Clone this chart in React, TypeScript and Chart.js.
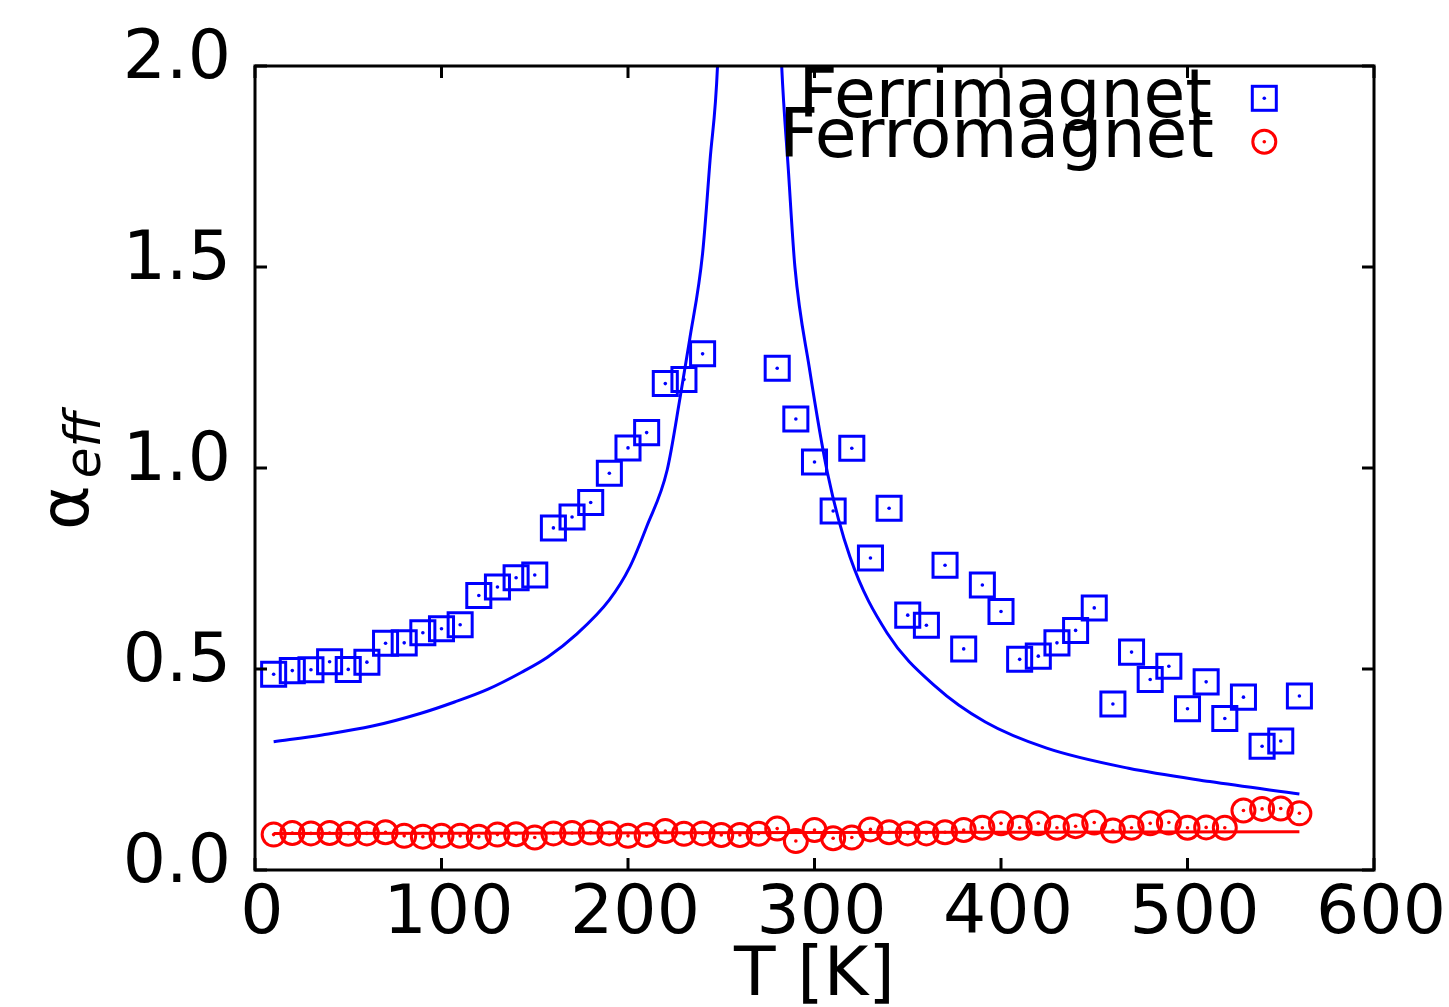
import React, { useEffect, useRef } from 'react';
import { Chart, registerables } from 'chart.js';

Chart.register(...registerables);

// ---- data ----
const ferriT = [10, 20, 30, 40, 50, 60, 70, 80, 90, 100, 110, 120, 130, 140, 150, 160, 170, 180, 190, 200, 210, 220, 230, 240,
  280, 290, 300, 310, 320, 330, 340, 350, 360, 370, 380, 390, 400, 410, 420, 430, 440, 450, 460, 470, 480, 490, 500, 510, 520, 530, 540, 550, 560];
const ferriAlpha = [0.487, 0.496, 0.498, 0.518, 0.499, 0.517, 0.564, 0.565, 0.590, 0.600, 0.610, 0.683, 0.704, 0.727, 0.734, 0.851, 0.878, 0.914, 0.987, 1.050, 1.088, 1.210, 1.220, 1.284,
  1.248, 1.122, 1.015, 0.893, 1.049, 0.776, 0.900, 0.634, 0.609, 0.758, 0.550, 0.709, 0.643, 0.524, 0.532, 0.565, 0.596, 0.652, 0.413, 0.542, 0.474, 0.507, 0.401, 0.468, 0.377, 0.430, 0.308, 0.321, 0.433];

const ferroT = [10, 20, 30, 40, 50, 60, 70, 80, 90, 100, 110, 120, 130, 140, 150, 160, 170, 180, 190, 200, 210, 220, 230, 240, 250, 260, 270, 280,
  290, 300, 310, 320, 330, 340, 350, 360, 370, 380, 390, 400, 410, 420, 430, 440, 450, 460, 470, 480, 490, 500, 510, 520, 530, 540, 550, 560];
const ferroAlpha = [0.088, 0.092, 0.091, 0.092, 0.090, 0.091, 0.094, 0.085, 0.083, 0.085, 0.085, 0.083, 0.088, 0.089, 0.081, 0.091, 0.092, 0.093, 0.091, 0.085, 0.087, 0.097, 0.090, 0.091, 0.087, 0.087, 0.090, 0.103,
  0.072, 0.0995, 0.079, 0.081, 0.101, 0.094, 0.091, 0.091, 0.094, 0.0995, 0.105, 0.116, 0.105, 0.116, 0.105, 0.109, 0.118, 0.098, 0.105, 0.116, 0.118, 0.105, 0.106, 0.105, 0.148, 0.152, 0.153, 0.141];

// ferrimagnet model curve (below and above the compensation point)
const fitLowT = [10, 36, 63, 89, 107, 125, 143, 157, 172, 190, 201, 210, 221, 228, 233, 240, 244, 248, 250];
const fitLowAlpha = [0.319, 0.336, 0.358, 0.390, 0.418, 0.450, 0.492, 0.530, 0.585, 0.672, 0.754, 0.854, 0.995, 1.177, 1.318, 1.534, 1.766, 2.0, 2.3];
const fitHighT = [280, 282.4, 286, 289.5, 297.2, 307, 319, 339, 365, 391.6, 424.5, 468.4, 512, 560];
const fitHighAlpha = [2.3, 2.0, 1.74, 1.5, 1.25, 0.987, 0.779, 0.589, 0.456, 0.368, 0.303, 0.253, 0.220, 0.189];

// ferromagnet model curve
const ferroFitT = [10, 300, 560];
const ferroFitAlpha = [0.091, 0.093, 0.095];

const xTicks = [0, 100, 200, 300, 400, 500, 600];
const yTicks = [0, 0.5, 1.0, 1.5, 2.0];
const legendLabels = ['Ferrimagnet', 'Ferromagnet'];
const xTitle = 'T [K]';
const yTitleMain = 'α';
const yTitleSub = 'eff';

const BLUE = '#0000ff';
const RED = '#ff0000';
const FONT = "'DejaVu Sans', sans-serif";

const pts = (xs: number[], ys: number[]) => xs.map((x, i) => ({ x, y: ys[i] }));

const decorPlugin = {
  id: 'decor',
  afterDatasetsDraw(chart: any) {
    const { ctx, chartArea: a, scales } = chart;
    ctx.save();
    ctx.strokeStyle = '#000';
    ctx.lineWidth = 3;
    ctx.strokeRect(a.left, a.top, a.right - a.left, a.bottom - a.top);
    const L = 12;
    ctx.beginPath();
    xTicks.forEach((v) => {
      const x = scales.x.getPixelForValue(v);
      ctx.moveTo(x, a.bottom); ctx.lineTo(x, a.bottom - L);
      ctx.moveTo(x, a.top); ctx.lineTo(x, a.top + L);
    });
    yTicks.forEach((v) => {
      const y = scales.y.getPixelForValue(v);
      ctx.moveTo(a.left, y); ctx.lineTo(a.left + L, y);
      ctx.moveTo(a.right, y); ctx.lineTo(a.right - L, y);
    });
    ctx.stroke();

    // legend
    ctx.fillStyle = '#000';
    ctx.font = `68px ${FONT}`;
    ctx.textAlign = 'right';
    ctx.textBaseline = 'alphabetic';
    ctx.fillText(legendLabels[0], 1212, 116.5);
    ctx.fillText(legendLabels[1], 1214, 157);
    ctx.lineWidth = 3;
    ctx.strokeStyle = BLUE;
    ctx.strokeRect(1264.3 - 12, 98.3 - 12, 24, 24);
    ctx.fillStyle = BLUE;
    ctx.beginPath(); ctx.arc(1264.3, 98.3, 1.8, 0, Math.PI * 2); ctx.fill();
    ctx.strokeStyle = RED;
    ctx.beginPath(); ctx.arc(1264.3, 141.7, 11.5, 0, Math.PI * 2); ctx.stroke();
    ctx.fillStyle = RED;
    ctx.beginPath(); ctx.arc(1264.3, 141.7, 1.8, 0, Math.PI * 2); ctx.fill();

    // axis titles
    ctx.fillStyle = '#000';
    ctx.textAlign = 'center';
    ctx.font = `68px ${FONT}`;
    ctx.fillText(xTitle, (a.left + a.right) / 2, 995);

    ctx.save();
    ctx.translate(88, 530);
    ctx.rotate(-Math.PI / 2);
    ctx.textAlign = 'left';
    ctx.font = `68px ${FONT}`;
    ctx.fillText(yTitleMain, 0, 0);
    const w = ctx.measureText(yTitleMain).width;
    ctx.font = `italic 50px ${FONT}`;
    ctx.fillText(yTitleSub, w + 7, 12);
    ctx.restore();

    ctx.restore();
  },
};

export default function App() {
  const ref = useRef<HTMLCanvasElement>(null);
  useEffect(() => {
    if (!ref.current) return;
    const lineDs = (data: any[], color: string) => ({
      data, showLine: true, borderColor: color, borderWidth: 3, pointRadius: 0,
      cubicInterpolationMode: 'monotone', fill: false,
    });
    const chart = new Chart(ref.current, {
      type: 'scatter',
      data: {
        datasets: [
          lineDs(pts(fitLowT, fitLowAlpha), BLUE),
          lineDs(pts(fitHighT, fitHighAlpha), BLUE),
          lineDs(pts(ferroFitT, ferroFitAlpha), RED),
          {
            data: pts(ferriT, ferriAlpha), showLine: false, pointStyle: 'rect', pointRadius: 17,
            borderColor: BLUE, borderWidth: 3, backgroundColor: 'rgba(0,0,0,0)',
          },
          {
            data: pts(ferriT, ferriAlpha), showLine: false, pointStyle: 'circle', pointRadius: 1.8,
            borderWidth: 0, backgroundColor: BLUE,
          },
          {
            data: pts(ferroT, ferroAlpha), showLine: false, pointStyle: 'circle', pointRadius: 11.5,
            borderColor: RED, borderWidth: 3, backgroundColor: 'rgba(0,0,0,0)',
          },
          {
            data: pts(ferroT, ferroAlpha), showLine: false, pointStyle: 'circle', pointRadius: 1.8,
            borderWidth: 0, backgroundColor: RED,
          },
        ] as any,
      },
      options: {
        animation: false,
        responsive: false,
        devicePixelRatio: 1,
        events: [],
        layout: { padding: { top: 66, right: 75, left: 0, bottom: 0 } },
        plugins: { legend: { display: false }, tooltip: { enabled: false } },
        scales: {
          x: {
            type: 'linear', min: 0, max: 600,
            grid: { display: false }, border: { display: false },
            ticks: {
              stepSize: 100, autoSkip: false, maxRotation: 0, color: '#000', padding: 3, labelOffset: 7,
              font: { family: FONT, size: 68, lineHeight: 1 },
            },
            afterFit: (s: any) => { s.height = 137; },
          },
          y: {
            type: 'linear', min: 0, max: 2,
            grid: { display: false }, border: { display: false },
            ticks: {
              stepSize: 0.5, color: '#000', padding: 16, labelOffset: -6,
              font: { family: FONT, size: 68, lineHeight: 1 },
              callback: (v: any) => Number(v).toFixed(1),
            },
            afterFit: (s: any) => { s.width = 255; },
          },
        },
      } as any,
      plugins: [decorPlugin],
    });
    return () => chart.destroy();
  }, []);
  return (
    <div style={{ position: 'fixed', left: 0, top: 0, width: 1449, height: 1007, background: '#fff' }}>
      <canvas ref={ref} width={1449} height={1007} style={{ display: 'block' }} />
    </div>
  );
}
